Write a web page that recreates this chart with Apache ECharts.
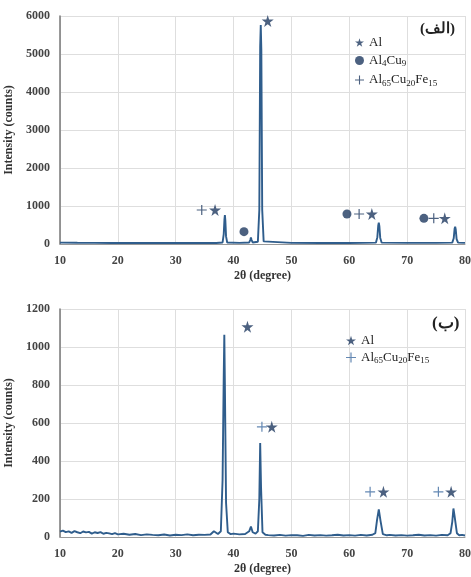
<!DOCTYPE html>
<html>
<head>
<meta charset="utf-8">
<script src="https://cdn.jsdelivr.net/npm/echarts@6/dist/echarts.min.js"></script>
<style>
  html, body { margin: 0; padding: 0; background: #fff; }
  #chart { width: 471px; height: 577px; }
</style>
</head>
<body>
<div id="chart"></div>
<script>
// pattern (a) - top
const topTheta = [10, 13, 16, 19, 22, 25, 28, 31, 34, 37, 38.1, 38.3, 38.42, 38.5, 38.58, 38.7, 38.9, 41, 42.7, 42.9, 43.0, 43.1, 43.3, 44.2, 44.45, 44.6, 44.7, 44.8, 44.95, 45.2, 50, 55, 60, 64.6, 64.85, 65.0, 65.1, 65.2, 65.35, 65.6, 70, 75, 77.8, 78.05, 78.2, 78.3, 78.4, 78.55, 78.8, 80];
const topCounts = [35, 32, 30, 28, 27, 26, 25, 25, 25, 28, 40, 260, 640, 760, 620, 200, 40, 30, 40, 110, 175, 110, 40, 60, 900, 5200, 5760, 5100, 900, 70, 30, 28, 28, 35, 180, 480, 560, 470, 160, 35, 30, 30, 35, 150, 400, 455, 380, 130, 35, 30];

const topStar = [[45.9, 5870], [36.8, 895], [63.9, 790], [76.5, 675]];
const topCircle = [[41.8, 325], [59.6, 790], [72.9, 675]];
const topPlus = [[34.5, 895], [61.7, 790], [74.6, 675]];

// pattern (b) - bottom
const botTheta = [10, 10.5, 11, 11.5, 12, 12.5, 13, 13.5, 14, 14.5, 15, 15.5, 16, 16.5, 17, 17.5, 18, 18.5, 19, 19.5, 20, 21, 22, 23, 24, 25, 26, 27, 28, 29, 30, 31, 32, 33, 34, 35, 36, 36.6, 36.9, 37.3, 37.8, 38.1, 38.3, 38.4, 38.5, 38.7, 39.0, 39.5, 40, 41, 42, 42.7, 43.0, 43.3, 43.8, 44.2, 44.45, 44.6, 44.75, 45.0, 45.5, 46, 47, 48, 49, 50, 51, 52, 53, 54, 55, 56, 57, 58, 59, 60, 61, 62, 63, 64, 64.5, 64.8, 65.1, 65.4, 65.8, 66.5, 67, 68, 69, 70, 71, 72, 73, 74, 75, 76, 77, 77.5, 77.8, 78.0, 78.2, 78.6, 79, 79.5, 80];
const botCounts = [28, 34, 26, 30, 22, 31, 25, 20, 29, 24, 27, 18, 25, 21, 26, 17, 22, 19, 15, 20, 14, 17, 12, 16, 10, 14, 11, 9, 13, 8, 12, 10, 14, 9, 12, 11, 13, 30, 20, 16, 30, 300, 850, 1065, 800, 180, 25, 15, 18, 14, 16, 30, 55, 25, 18, 30, 200, 495, 260, 25, 12, 10, 8, 11, 7, 10, 9, 6, 11, 8, 10, 7, 9, 12, 8, 10, 7, 11, 8, 12, 20, 90, 145, 85, 15, 9, 11, 8, 10, 7, 9, 12, 8, 10, 7, 11, 9, 20, 80, 150, 110, 20, 9, 11, 8];

const botStar = [[42.4, 1107], [46.6, 580], [65.9, 238], [77.6, 238]];
const botPlus = [[44.9, 580], [63.6, 238], [75.4, 238]];

const STAR = "path://M50,0 L61,35 L98,35 L68,57 L79,91 L50,70 L21,91 L32,57 L2,35 L39,35 Z";
const PLUS = "path://M44,0 H56 V44 H100 V56 H56 V100 H44 V56 H0 V44 H44 Z";
const lineColor = "#2f5d8c";
const markColor = "#1f3a60";
const font = "Liberation Serif";

const pair = (xs, ys) => xs.map((x, i) => [x, ys[i]]);

function xAxis(gridIndex) {
  return {
    type: "value", gridIndex, min: 10, max: 80, interval: 10,
    name: "2θ (degree)", nameLocation: "middle", nameGap: 26,
    nameTextStyle: { fontFamily: font, fontWeight: "bold", fontSize: 12, color: "#333" },
    axisLine: { show: true, onZero: false, lineStyle: { color: "#999" } },
    axisTick: { show: false },
    axisLabel: { fontFamily: font, fontWeight: "bold", fontSize: 12, color: "#444", margin: 11 },
    splitLine: { show: true, lineStyle: { color: "#dedede" } }
  };
}
function yAxis(gridIndex, max, interval) {
  return {
    type: "value", gridIndex, min: 0, max, interval,
    name: "Intensity (counts)", nameLocation: "middle", nameGap: 32,
    nameTextStyle: { fontFamily: font, fontWeight: "bold", fontSize: 12, color: "#333" },
    axisLine: { show: true, lineStyle: { color: "#777", width: 1.5 } },
    axisTick: { show: false },
    axisLabel: { fontFamily: font, fontWeight: "bold", fontSize: 12, color: "#444", margin: 10, formatter: (v) => String(v) },
    splitLine: { show: true, lineStyle: { color: "#dedede" } }
  };
}
function lineSeries(idx, data) {
  return {
    type: "line", xAxisIndex: idx, yAxisIndex: idx, data, showSymbol: false,
    silent: true, lineStyle: { color: lineColor, width: 1.9 }, z: 3
  };
}
function markSeries(idx, name, symbol, size, data, color) {
  return {
    type: "scatter", name, xAxisIndex: idx, yAxisIndex: idx, symbol, symbolSize: size,
    data, itemStyle: { color: color || markColor }, z: 4
  };
}

const rich = {
  t: { fontFamily: font, fontSize: 13, color: "#222" },
  s: { fontFamily: font, fontSize: 9, color: "#222", padding: [7, 0, 0, 0] }
};
const legendNames = {
  "Al": "{t|Al}",
  "Al4Cu9": "{t|Al}{s|4}{t|Cu}{s|9}",
  "Al65Cu20Fe15": "{t|Al}{s|65}{t|Cu}{s|20}{t|Fe}{s|15}"
};

const option = {
  backgroundColor: "#fff",
  animation: false,
  grid: [
    { left: 60, right: 6, top: 16, height: 228, outerBoundsMode: "none" },
    { left: 60, right: 6, top: 309, height: 228, outerBoundsMode: "none" }
  ],
  xAxis: [xAxis(0), xAxis(1)],
  yAxis: [yAxis(0, 6000, 1000), yAxis(1, 1200, 200)],
  legend: [
    {
      data: ["Al", "Al4Cu9", "Al65Cu20Fe15"], orient: "vertical", left: 350, top: 31,
      itemWidth: 9, itemHeight: 9, itemGap: 5, selectedMode: false,
      formatter: (n) => legendNames[n], textStyle: { rich }
    },
    {
      data: ["Al ", "Al65Cu20Fe15 "], orient: "vertical", left: 341, top: 329,
      itemWidth: 10, itemHeight: 10, itemGap: 4, selectedMode: false,
      formatter: (n) => legendNames[n.trim()], textStyle: { rich }
    }
  ],
  graphic: [
    { type: "text", left: 420, top: 22, style: { text: "(الف)", font: "bold 15px " + font, fill: "#222" } },
    { type: "text", left: 432, top: 315, style: { text: "(ب)", font: "bold 17px " + font, fill: "#222" } }
  ],
  series: [
    lineSeries(0, pair(topTheta, topCounts)),
    markSeries(0, "Al", STAR, 12, topStar),
    markSeries(0, "Al4Cu9", "circle", 9, topCircle),
    markSeries(0, "Al65Cu20Fe15", PLUS, 10, topPlus),
    lineSeries(1, pair(botTheta, botCounts)),
    markSeries(1, "Al ", STAR, 12, botStar),
    markSeries(1, "Al65Cu20Fe15 ", PLUS, 10, botPlus, "#3d6aa0")
  ]
};

const chart = echarts.init(document.getElementById("chart"));
chart.setOption(option);
window.addEventListener("resize", () => chart.resize());
</script>
</body>
</html>
